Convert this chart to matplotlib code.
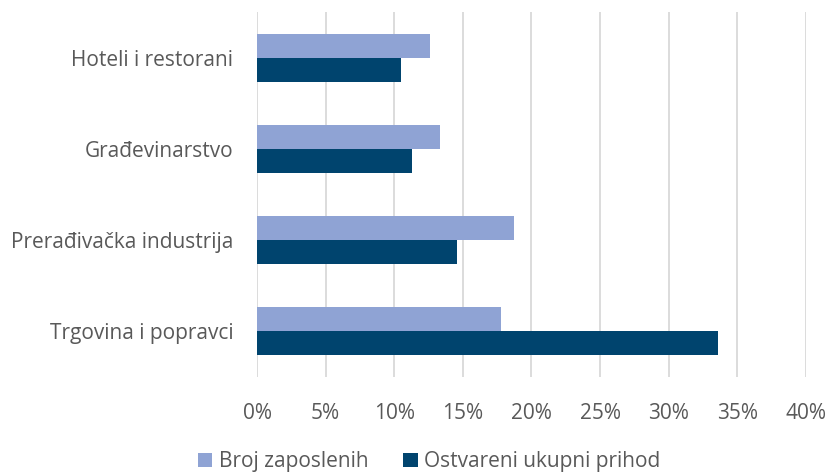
import numpy as np
import matplotlib.pyplot as plt
from matplotlib.ticker import PercentFormatter

categories = ['Trgovina i popravci', 'Prerađivačka industrija', 'Građevinarstvo', 'Hoteli i restorani']
broj_zaposlenih = [17.8, 18.7, 13.3, 12.6]
ukupni_prihod = [33.6, 14.6, 11.3, 10.5]
ticks = [0, 5, 10, 15, 20, 25, 30, 35, 40]

plt.rcParams['font.family'] = ['Open Sans', 'DejaVu Sans']
txt = '#595959'

fig = plt.figure(figsize=(8.28, 4.72), dpi=100)
ax = fig.add_axes([0.3104, 0.2013, 0.6630, 0.7733])

y = np.arange(len(categories))
h = 0.263
ax.barh(y + h / 2, broj_zaposlenih, height=h, color='#8FA3D4', label='Broj zaposlenih', zorder=3)
ax.barh(y - h / 2, ukupni_prihod, height=h, color='#00446E', label='Ostvareni ukupni prihod', zorder=3)

ax.set_xlim(0, 40)
ax.set_ylim(-0.5, len(categories) - 0.5)
ax.set_xticks(ticks)
ax.xaxis.set_major_formatter(PercentFormatter(decimals=0))
ax.set_yticks(y)
ax.set_yticklabels(categories)
ax.grid(axis='x', color='#D9D9D9', linewidth=1.3, zorder=0)
for s in ax.spines.values():
    s.set_visible(False)
ax.tick_params(axis='both', length=0, labelsize=15, labelcolor=txt)
ax.tick_params(axis='x', pad=18.5)
ax.tick_params(axis='y', pad=17)

fig.legend(loc='lower center', bbox_to_anchor=(0.518, -0.04), ncol=2, frameon=False,
           fontsize=15, labelcolor=txt, handlelength=0.7, handleheight=0.7,
           handletextpad=0.3, columnspacing=1.67)

fig.savefig('out.png', dpi=100)
